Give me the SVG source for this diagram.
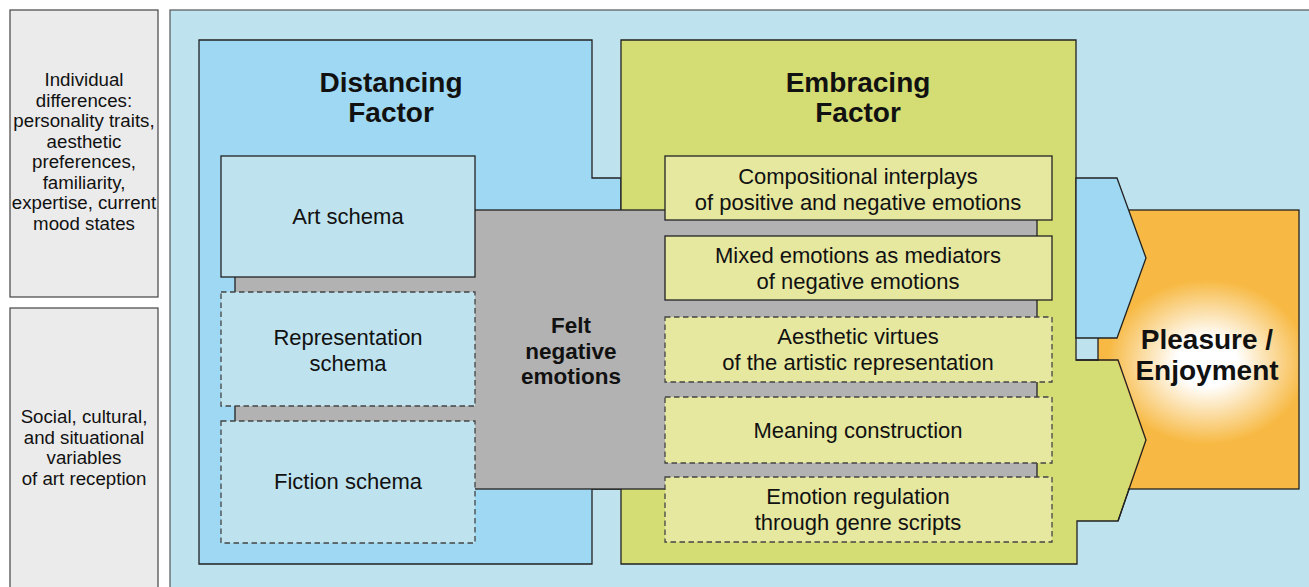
<svg xmlns="http://www.w3.org/2000/svg" width="1309" height="587" viewBox="0 0 1309 587">
<defs>
<radialGradient id="glow" cx="1207" cy="362" r="100" gradientUnits="userSpaceOnUse" gradientTransform="translate(1207 362) scale(1 0.82) translate(-1207 -362)">
<stop offset="0" stop-color="#ffffff"/>
<stop offset="0.3" stop-color="#ffffff"/>
<stop offset="1" stop-color="#f7b943"/>
</radialGradient>
<style>
.ln{stroke:#222;stroke-width:1.3;stroke-linejoin:miter}
.side{fill:#ebebeb;stroke:#444;stroke-width:1.2}
.schema{fill:#bfe3ee;stroke:#222;stroke-width:1.3}
.emb{fill:#e6e8a0;stroke:#222;stroke-width:1.3}
.dash{stroke:#444;stroke-dasharray:5.5 3.5}
text{font-family:"Liberation Sans",Arial,Helvetica,sans-serif;fill:#111;text-anchor:middle}
.s{font-size:18.7px}
.b{font-size:22px}
.t{font-size:28px;font-weight:bold}
.f{font-size:22.5px;font-weight:bold}
</style>
</defs>
<rect x="0" y="0" width="1309" height="587" fill="#ffffff"/>
<rect id="bg" x="170" y="10" width="1145" height="590" fill="#bfe3ee" stroke="#555" stroke-width="1.2"/>

<g id="side-individual">
<rect class="side" x="10" y="10" width="148" height="287"/>
<text class="s"><tspan x="84" y="86">Individual</tspan><tspan x="84" y="106.5">differences:</tspan><tspan x="84" y="127">personality traits,</tspan><tspan x="84" y="147.5">aesthetic</tspan><tspan x="84" y="168">preferences,</tspan><tspan x="84" y="188.5">familiarity,</tspan><tspan x="84" y="209">expertise, current</tspan><tspan x="84" y="229.5">mood states</tspan></text>
</g>
<g id="side-social">
<rect class="side" x="10" y="308" width="148" height="290"/>
<text class="s"><tspan x="84" y="423">Social, cultural,</tspan><tspan x="84" y="443.5">and situational</tspan><tspan x="84" y="464">variables</tspan><tspan x="84" y="484.5">of art reception</tspan></text>
</g>

<g id="distancing">
<polygon class="ln" fill="#9fd8f2" points="199,40 592,40 592,178 621,178 621,489 592,489 592,564 199,564"/>
<text class="t"><tspan x="391" y="92">Distancing</tspan><tspan x="391" y="122">Factor</tspan></text>
</g>

<g id="embracing">
<polygon class="ln" fill="#d4dc74" points="621,40 1076,40 1076,360 1118,360 1146,440 1118,521 1077,521 1077,564 621,564"/>
<text class="t"><tspan x="858" y="92">Embracing</tspan><tspan x="858" y="122">Factor</tspan></text>
</g>

<g id="pleasure">
<rect class="ln" x="1098" y="210" width="201" height="279" fill="#f7b943"/>
<rect x="1099" y="211" width="199" height="277" fill="url(#glow)"/>
</g>

<g id="connectors">
<polygon class="ln" fill="#9fd8f2" points="1076,178 1117,178 1146,258 1117,338 1076,338"/>
<polygon fill="#d4dc74" points="1077,361 1117,361 1145,440 1117,520 1077,520"/>
<polyline class="ln" fill="none" points="1076,360 1118,360 1146,440 1118,521"/>
</g>

<g id="felt">
<rect class="ln" x="235" y="210" width="802" height="279" fill="#b2b2b2"/>
<text class="f"><tspan x="571" y="333">Felt</tspan><tspan x="571" y="358.5">negative</tspan><tspan x="571" y="384">emotions</tspan></text>
</g>

<g id="art-schema">
<rect class="schema" x="221" y="156" width="254" height="121"/>
<text class="b" x="348" y="224">Art schema</text>
</g>
<g id="representation-schema">
<rect class="schema dash" x="221" y="292" width="254" height="114"/>
<text class="b"><tspan x="348" y="345">Representation</tspan><tspan x="348" y="371">schema</tspan></text>
</g>
<g id="fiction-schema">
<rect class="schema dash" x="221" y="421" width="254" height="122"/>
<text class="b" x="348" y="489">Fiction schema</text>
</g>

<g id="compositional">
<rect class="emb" x="665" y="156" width="387" height="64"/>
<text class="b"><tspan x="858" y="184">Compositional interplays</tspan><tspan x="858" y="210">of positive and negative emotions</tspan></text>
</g>
<g id="mixed">
<rect class="emb" x="665" y="236" width="387" height="64"/>
<text class="b"><tspan x="858" y="263">Mixed emotions as mediators</tspan><tspan x="858" y="289">of negative emotions</tspan></text>
</g>
<g id="aesthetic">
<rect class="emb dash" x="665" y="317" width="387" height="65"/>
<text class="b"><tspan x="858" y="344">Aesthetic virtues</tspan><tspan x="858" y="370">of the artistic representation</tspan></text>
</g>
<g id="meaning">
<rect class="emb dash" x="665" y="397" width="387" height="66"/>
<text class="b" x="858" y="438">Meaning construction</text>
</g>
<g id="regulation">
<rect class="emb dash" x="665" y="477" width="387" height="65"/>
<text class="b"><tspan x="858" y="504">Emotion regulation</tspan><tspan x="858" y="530">through genre scripts</tspan></text>
</g>

<g id="pleasure-label">
<text class="t"><tspan x="1207" y="349">Pleasure /</tspan><tspan x="1207" y="380">Enjoyment</tspan></text>
</g>
</svg>
